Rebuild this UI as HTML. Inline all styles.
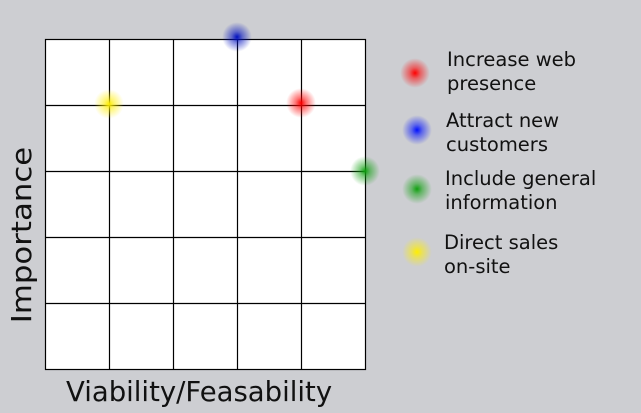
<!DOCTYPE html>
<html><head><style>
body{margin:0;width:641px;height:413px;background:#cdced2;position:relative;overflow:hidden;font-family:"DejaVu Sans","Liberation Sans",sans-serif;}
.g{position:absolute;left:45px;top:39px;width:320px;height:330px;background:#fff;}
.d{position:absolute;width:30px;height:30px;border-radius:50%;margin:-15px 0 0 -15px;}
.t{position:absolute;font-size:19.5px;color:#111;line-height:24px;white-space:nowrap;}
</style></head><body>
<div class="g"></div>
<svg width="641" height="413" style="position:absolute;left:0;top:0">
<g stroke="#000" stroke-width="1.2" fill="none">
<rect x="45.5" y="39.5" width="320" height="330"/>
<line x1="109.5" y1="39" x2="109.5" y2="369"/><line x1="173.5" y1="39" x2="173.5" y2="369"/>
<line x1="237.5" y1="39" x2="237.5" y2="369"/><line x1="301.5" y1="39" x2="301.5" y2="369"/>
<line x1="45" y1="105.5" x2="365" y2="105.5"/><line x1="45" y1="171.5" x2="365" y2="171.5"/>
<line x1="45" y1="237.5" x2="365" y2="237.5"/><line x1="45" y1="303.5" x2="365" y2="303.5"/>
</g></svg>
<div class="d" style="left:109px;top:104px;background:radial-gradient(circle,#ffee00 0%,rgba(255,238,0,.55) 25%,rgba(255,238,0,0) 70%)"></div>
<div class="d" style="left:237px;top:37px;background:radial-gradient(circle,#0010c0 0%,rgba(0,16,192,.55) 25%,rgba(0,16,192,0) 70%)"></div>
<div class="d" style="left:301px;top:103px;background:radial-gradient(circle,#ff0000 0%,rgba(255,0,0,.55) 25%,rgba(255,0,0,0) 70%)"></div>
<div class="d" style="left:365px;top:171px;background:radial-gradient(circle,#10a010 0%,rgba(16,160,16,.55) 25%,rgba(16,160,16,0) 70%)"></div>
<div class="d" style="left:415px;top:73px;background:radial-gradient(circle,#ff0000 0%,rgba(255,0,0,.55) 25%,rgba(255,0,0,0) 70%)"></div>
<div class="d" style="left:417px;top:130px;background:radial-gradient(circle,#0010ff 0%,rgba(0,16,255,.55) 25%,rgba(0,16,255,0) 70%)"></div>
<div class="d" style="left:417px;top:189px;background:radial-gradient(circle,#10a010 0%,rgba(16,160,16,.55) 25%,rgba(16,160,16,0) 70%)"></div>
<div class="d" style="left:417px;top:252px;background:radial-gradient(circle,#ffee00 0%,rgba(255,238,0,.55) 25%,rgba(255,238,0,0) 70%)"></div>
<div class="t" style="left:447px;top:48px">Increase web<br>presence</div>
<div class="t" style="left:446px;top:109px">Attract new<br>customers</div>
<div class="t" style="left:445px;top:167px">Include general<br>information</div>
<div class="t" style="left:444px;top:231px">Direct sales<br>on-site</div>
<div class="t" style="left:66px;top:376px;font-size:27.5px;line-height:32px">Viability/Feasability</div>
<div class="t" style="left:22px;top:235px;font-size:27.5px;line-height:32px;transform:translate(-50%,-50%) rotate(-90deg) scaleX(1.12);">Importance</div>
</body></html>
